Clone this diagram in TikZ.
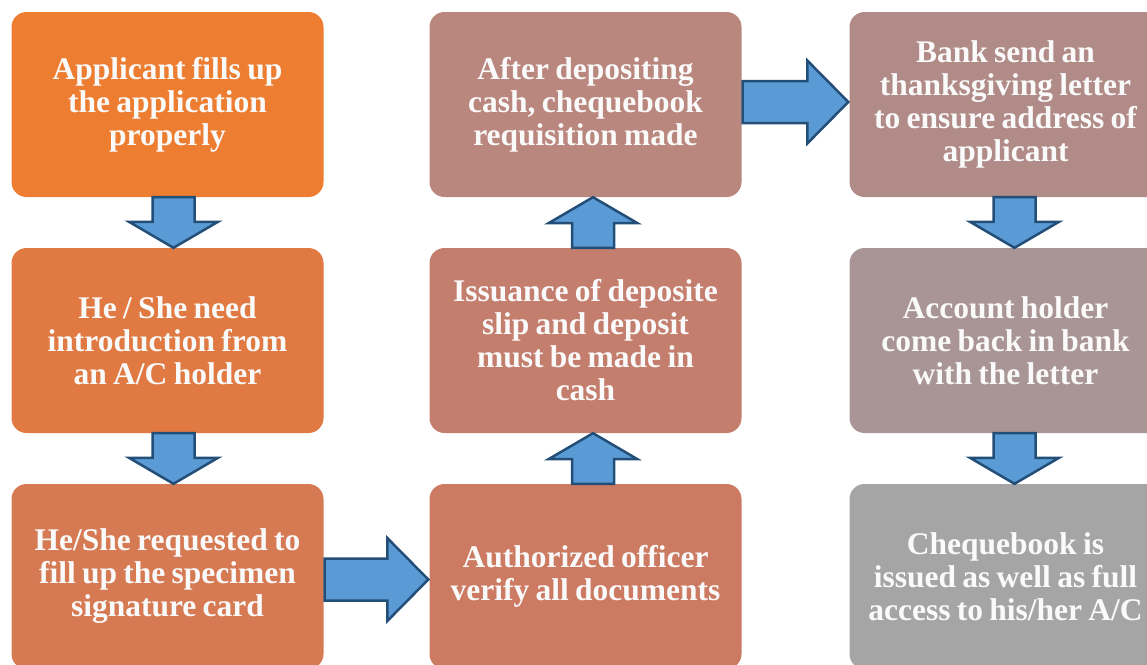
\documentclass[tikz,border=0pt]{standalone}
\usepackage{fontspec}
\setmainfont{Liberation Serif}
\usetikzlibrary{calc}
\definecolor{cA}{RGB}{237,125,49}
\definecolor{cB}{RGB}{224,122,66}
\definecolor{cC}{RGB}{214,122,84}
\definecolor{cD}{RGB}{204,123,98}
\definecolor{cE}{RGB}{196,126,110}
\definecolor{cF}{RGB}{186,135,126}
\definecolor{cG}{RGB}{176,139,135}
\definecolor{cH}{RGB}{169,149,149}
\definecolor{cI}{RGB}{165,165,165}
\definecolor{arrowfill}{RGB}{91,155,213}
\definecolor{arrowline}{RGB}{35,78,120}
\definecolor{boxtext}{RGB}{250,250,250}
\newcommand\boxfont{\fontsize{31.5}{33}\selectfont\bfseries\fontdimen2\font=0.2em\relax}
\tikzset{
  box/.style={rounded corners=15pt, minimum width=312pt, minimum height=185pt,
    inner sep=0pt, align=center, text=boxtext, font=\boxfont},
  blk/.style={fill=arrowfill, draw=arrowline, line width=2.5pt, line join=miter}
}
\newcommand\blkdown[3]{\draw[blk] ($(#1.south)+(#3-21,0)$) -- ($(#2.north)+(#3-21,-26)$) -- ($(#2.north)+(#3-44.5,-26)$) -- ($(#2.north)+(#3,0)$) -- ($(#2.north)+(#3+44.5,-26)$) -- ($(#2.north)+(#3+21,-26)$) -- ($(#1.south)+(#3+21,0)$) -- cycle;}
\newcommand\blkup[3]{\draw[blk] ($(#1.north)+(#3-21,0)$) -- ($(#2.south)+(#3-21,26)$) -- ($(#2.south)+(#3-44.5,26)$) -- ($(#2.south)+(#3,0)$) -- ($(#2.south)+(#3+44.5,26)$) -- ($(#2.south)+(#3+21,26)$) -- ($(#1.north)+(#3+21,0)$) -- cycle;}
\newcommand\blkright[3]{\draw[blk] ($(#1.east)+(1,#3-21)$) -- ($(#2.west)+(-42,#3-21)$) -- ($(#2.west)+(-42,#3-41.5)$) -- ($(#2.west)+(-1,#3)$) -- ($(#2.west)+(-42,#3+41.5)$) -- ($(#2.west)+(-42,#3+21)$) -- ($(#1.east)+(1,#3+21)$) -- cycle;}
\begin{document}
\begin{tikzpicture}[x=1pt,y=-1pt]
\useasboundingbox (0,0) rectangle (1147,664);
\clip (0,0) rectangle (1147,664);
\node[box, fill=cA] (a1) at (167.5,104.5) {Applicant fills up\\the application\\properly};
\node[box, fill=cB] (a2) at (167.5,340.5) {He / She need\\introduction from\\an A/C holder};
\node[box, fill=cC] (a3) at (167.5,576.5) {He/She requested to\\fill up the specimen\\signature card};
\node[box, fill=cD] (b3) at (585.5,576.5) {Authorized officer\\verify all documents};
\node[box, fill=cE] (b2) at (585.5,340.5) {Issuance of deposite\\slip and deposit\\must be made in\\cash};
\node[box, fill=cF] (b1) at (585.5,104.5) {After depositing\\cash, chequebook\\requisition made};
\node[box, fill=cG] (c1) at (1005.5,104.5) {Bank send an\\thanksgiving letter\\to ensure address of\\applicant};
\node[box, fill=cH] (c2) at (1005.5,340.5) {Account holder\\come back in bank\\with the letter};
\node[box, fill=cI] (c3) at (1005.5,576.5) {Chequebook is\\issued as well as full\\access to his/her A/C};
\blkdown{a1}{a2}{6}
\blkdown{a2}{a3}{6}
\blkright{a3}{b3}{3}
\blkup{b3}{b2}{7.5}
\blkup{b2}{b1}{7.5}
\blkright{b1}{c1}{-2.5}
\blkdown{c1}{c2}{9}
\blkdown{c2}{c3}{9}
\end{tikzpicture}
\end{document}
